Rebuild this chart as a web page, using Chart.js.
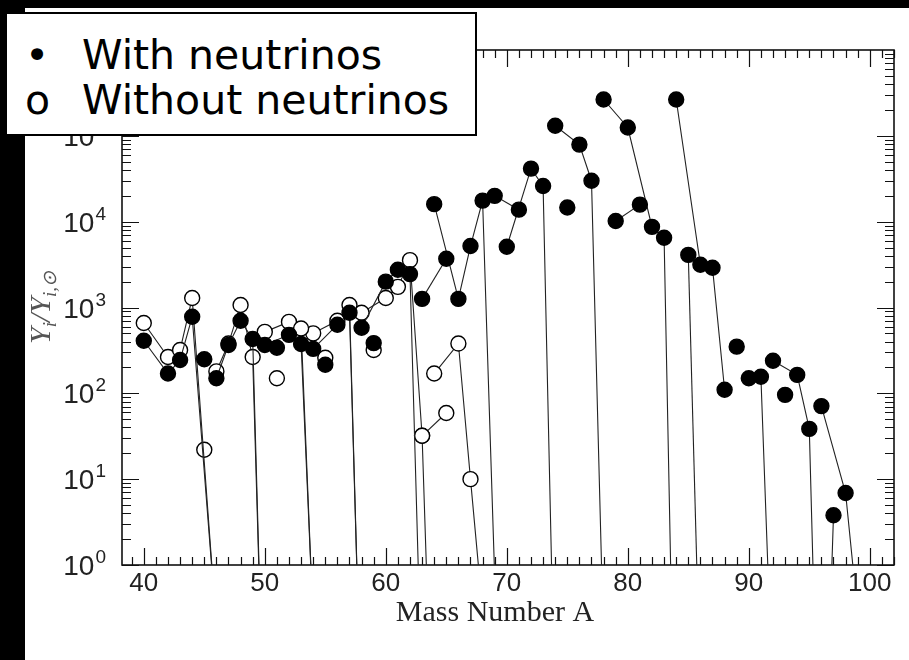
<!DOCTYPE html>
<html>
<head>
<meta charset="utf-8">
<script src="https://cdn.jsdelivr.net/npm/chart.js"></script>
<style>
  html, body { margin: 0; padding: 0; background: #000; width: 909px; height: 660px; overflow: hidden; }
  #paper { position: absolute; left: 25px; top: 8px; width: 884px; height: 652px; background: #fff; }
  #chart { position: absolute; left: 0; top: 0; }
  #legend {
    position: absolute; left: 5px; top: 12px; width: 468px; height: 120px;
    background: #fff; border: 2px solid #000;
    font-family: "DejaVu Sans", Verdana, sans-serif; font-size: 41px; line-height: 41px; color: #000;
  }
  #legend div { position: absolute; white-space: nowrap; }
</style>
</head>
<body>
<div id="paper"></div>
<canvas id="chart" width="909" height="660"></canvas>
<div id="legend">
  <div style="left:18px; top:21px;">•</div>
  <div style="left:75px; top:21px;">With neutrinos</div>
  <div style="left:18px; top:66px;">o</div>
  <div style="left:75px; top:66px;">Without neutrinos</div>
</div>
<script>
// Y_i / Y_i,sun per isotope, one chain per element: [mass number, ratio].
// Values below 1 are isotopes that fall off the bottom of the plot.
const withNeutrinos = [
  [[40, 410], [42, 170], [43, 245], [44, 780], [46, 0.19]],                 // Ca
  [[45, 250]],                                                               // Sc
  [[46, 150], [47, 365], [48, 700], [49, 430], [50, 0.004]],                 // Ti
  [[51, 340]],                                                               // V
  [[50, 365], [52, 480], [53, 375], [54, 0.22]],                             // Cr
  [[55, 215]],                                                               // Mn
  [[54, 330], [56, 630], [57, 870], [58, 0.011]],                            // Fe
  [[59, 385]],                                                               // Co
  [[58, 580], [60, 2000], [61, 2750], [62, 2450], [64, 2.5e-7]],             // Ni
  [[63, 1260], [65, 3700]],                                                  // Cu
  [[64, 16000], [66, 1260], [67, 5200], [68, 17600], [70, 3e-5]],            // Zn
  [[69, 20000], [71, 13800]],                                                // Ga
  [[70, 5100], [72, 41500], [73, 26000], [74, 0.0126]],                      // Ge
  [[75, 14600]],                                                             // As
  [[74, 131000], [76, 79000], [77, 30000], [78, 0.12]],                      // Se
  [[79, 10200], [81, 15800]],                                                // Br
  [[78, 265000], [80, 125000], [82, 8700], [83, 6500], [84, 0.00056]],       // Kr
  [[85, 4100], [87, 2e-7]],                                                  // Rb
  [[84, 265000], [86, 3150], [87, 2900], [88, 110]],                         // Sr
  [[89, 350]],                                                               // Y
  [[90, 150], [91, 156], [92, 0.022]],                                       // Zr
  [[93, 96]],                                                                // Nb
  [[92, 240], [94, 164], [95, 38.5], [96, 0.0002], [97, 3.8]],               // Mo
  [[96, 71], [98, 6.9], [99, 0.27]]                                          // Ru
];

const withoutNeutrinos = [
  [[40, 660], [42, 265], [43, 320], [44, 1290], [46, 0.19]],                 // Ca
  [[45, 22]],                                                                // Sc
  [[46, 180], [47, 380], [48, 1070], [49, 265], [50, 0.004]],                // Ti
  [[51, 150]],                                                               // V
  [[50, 520], [52, 680], [53, 570], [54, 0.22]],                             // Cr
  [[55, 260]],                                                               // Mn
  [[54, 500], [56, 700], [57, 1070], [58, 0.011]],                           // Fe
  [[59, 320]],                                                               // Co
  [[58, 870], [60, 1290], [61, 1740], [62, 3560], [63, 32], [64, 0.0016]],   // Ni
  [[63, 32], [65, 59]],                                                      // Cu
  [[64, 170], [66, 380], [67, 10], [68, 0.29]]                               // Zn
];

const xLabels = [40, 50, 60, 70, 80, 90, 100];
const yDecades = [0, 1, 2, 3, 4, 5];

function chainSets(chains, open) {
  return chains.map(chain => ({
    data: chain.map(([a, v]) => ({ x: a, y: v })),
    showLine: true,
    tension: 0,
    borderColor: '#222',
    borderWidth: 1.1,
    pointRadius: c => (c.raw && c.raw.y >= 1 ? 7.5 : 0),
    pointHoverRadius: 0,
    pointBackgroundColor: open ? '#fff' : '#000',
    pointBorderColor: '#000',
    pointBorderWidth: 1.4,
    order: open ? 1 : 0
  }));
}

const sansFont = '"Liberation Sans", Arial, sans-serif';
const serifFont = '"Liberation Serif", "Times New Roman", serif';

// inward tick marks on all four sides plus the frame
const frameTicks = {
  id: 'frameTicks',
  beforeDatasetsDraw(chart) {
    const { ctx, chartArea: a, scales: { x, y } } = chart;
    ctx.save();
    ctx.strokeStyle = '#111';
    ctx.lineWidth = 1.2;
    ctx.beginPath();
    for (let m = Math.ceil(x.min); m <= Math.floor(x.max); m++) {
      const px = Math.round(x.getPixelForValue(m)) + 0.5;
      const len = m % 10 === 0 ? 17 : 8;
      ctx.moveTo(px, a.bottom); ctx.lineTo(px, a.bottom - len);
      ctx.moveTo(px, a.top); ctx.lineTo(px, a.top + len);
    }
    yDecades.forEach(d => {
      for (let k = 1; k <= 9; k++) {
        const py = Math.round(y.getPixelForValue(k * Math.pow(10, d))) + 0.5;
        const len = k === 1 ? 17 : 9;
        ctx.moveTo(a.left, py); ctx.lineTo(a.left + len, py);
        ctx.moveTo(a.right, py); ctx.lineTo(a.right - len, py);
      }
    });
    ctx.stroke();
    ctx.lineWidth = 1.6;
    ctx.strokeRect(a.left, a.top, a.right - a.left, a.bottom - a.top);
    ctx.restore();
  },
  afterDraw(chart) {
    const { ctx, chartArea: a, scales: { x, y } } = chart;
    ctx.save();
    ctx.fillStyle = '#222';

    // x tick labels
    ctx.font = '26px ' + sansFont;
    ctx.textAlign = 'center';
    ctx.textBaseline = 'top';
    xLabels.forEach(v => ctx.fillText(String(v), x.getPixelForValue(v), a.bottom + 6));

    // y tick labels as 10^d
    ctx.textAlign = 'left';
    ctx.textBaseline = 'alphabetic';
    const right = a.left - 16;
    yDecades.forEach(d => {
      const py = y.getPixelForValue(Math.pow(10, d));
      ctx.font = '19px ' + sansFont;
      const ew = ctx.measureText(String(d)).width;
      ctx.fillText(String(d), right - ew, py - 2);
      ctx.font = '28px ' + sansFont;
      const bw = ctx.measureText('10').width;
      ctx.fillText('10', right - ew - bw - 1, py + 10);
    });

    // x axis title
    ctx.font = '30px ' + serifFont;
    ctx.textAlign = 'center';
    ctx.fillText('Mass Number A', (a.left + a.right) / 2 - 13, a.bottom + 56);

    // y axis title: Y_i / Y_i,sun
    ctx.translate(50, (a.top + a.bottom) / 2);
    ctx.rotate(-Math.PI / 2);
    ctx.fillStyle = '#555';
    const parts = [
      ['Y', 30, 0], ['i', 19, 6], ['/', 30, 0], ['Y', 30, 0], ['i,\u2299', 19, 6]
    ];
    let total = 0;
    parts.forEach(([t, s]) => { ctx.font = 'italic ' + s + 'px ' + serifFont; total += ctx.measureText(t).width; });
    let cx = -total / 2;
    ctx.textAlign = 'left';
    parts.forEach(([t, s, dy]) => {
      ctx.font = 'italic ' + s + 'px ' + serifFont;
      ctx.fillText(t, cx, dy);
      cx += ctx.measureText(t).width;
    });
    ctx.restore();
  }
};

new Chart(document.getElementById('chart'), {
  type: 'line',
  data: {
    datasets: chainSets(withNeutrinos, false).concat(chainSets(withoutNeutrinos, true))
  },
  options: {
    responsive: false,
    animation: false,
    events: [],
    layout: { padding: { left: 122, right: 15, top: 50, bottom: 95 } },
    scales: {
      x: { type: 'linear', min: 38.2, max: 102, display: false },
      y: { type: 'logarithmic', min: 1, max: 1e6, display: false }
    },
    plugins: {
      legend: { display: false },
      tooltip: { enabled: false }
    }
  },
  plugins: [frameTicks]
});
</script>
</body>
</html>
